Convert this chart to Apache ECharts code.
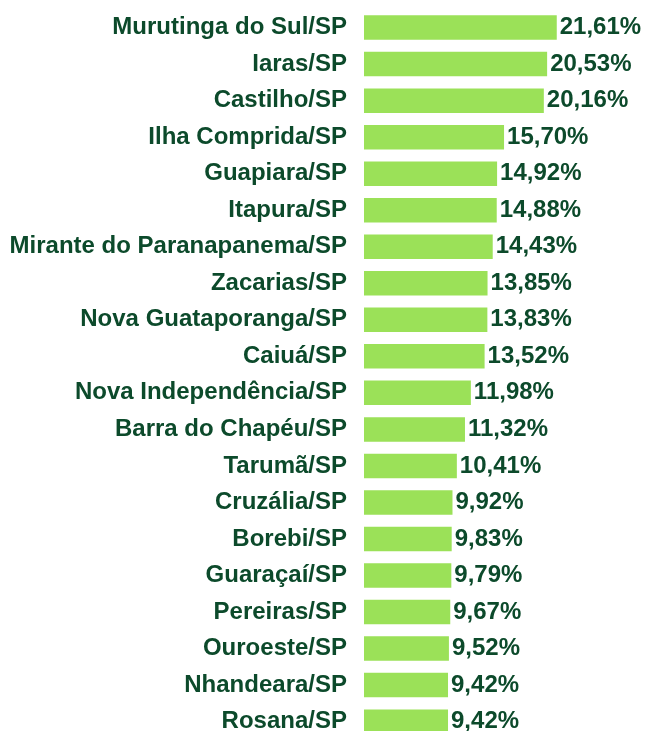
<!DOCTYPE html>
<html>
<head>
<meta charset="utf-8">
<script src="https://cdn.jsdelivr.net/npm/echarts@6/dist/echarts.min.js"></script>
<style>
  html, body { margin: 0; padding: 0; background: #fff; }
  #chart { width: 645px; height: 731px; }
</style>
</head>
<body>
<div id="chart"></div>
<script>
// Municipalities, top to bottom
const municipios = [
  'Murutinga do Sul/SP', 'Iaras/SP', 'Castilho/SP', 'Ilha Comprida/SP',
  'Guapiara/SP', 'Itapura/SP', 'Mirante do Paranapanema/SP', 'Zacarias/SP',
  'Nova Guataporanga/SP', 'Caiuá/SP', 'Nova Independência/SP',
  'Barra do Chapéu/SP', 'Tarumã/SP', 'Cruzália/SP', 'Borebi/SP',
  'Guaraçaí/SP', 'Pereiras/SP', 'Ouroeste/SP', 'Nhandeara/SP', 'Rosana/SP'
];
// Percentage for each municipality
const percentuais = [
  21.61, 20.53, 20.16, 15.70, 14.92, 14.88, 14.43, 13.85, 13.83, 13.52,
  11.98, 11.32, 10.41, 9.92, 9.83, 9.79, 9.67, 9.52, 9.42, 9.42
];

const verdeEscuro = '#0c4a2b';
const verdeBarra = '#9be158';

const chart = echarts.init(document.getElementById('chart'), null, { renderer: 'canvas' });
chart.setOption({
  animation: false,
  grid: {
    left: 364, top: 9.3, width: 223, height: 730.6,
    outerBoundsMode: 'none'
  },
  xAxis: {
    type: 'value', min: 0, max: 25,
    show: false
  },
  yAxis: {
    type: 'category',
    inverse: true,
    data: municipios,
    axisLine: { show: false },
    axisTick: { show: false },
    axisLabel: {
      margin: 17,
      color: verdeEscuro,
      fontFamily: 'Liberation Sans, Arial, sans-serif',
      fontWeight: 'bold',
      fontSize: 24
    }
  },
  series: [{
    type: 'bar',
    data: percentuais,
    barWidth: 24.5,
    itemStyle: { color: verdeBarra },
    label: {
      show: true,
      position: 'right',
      distance: 3,
      color: verdeEscuro,
      fontFamily: 'Liberation Sans, Arial, sans-serif',
      fontWeight: 'bold',
      fontSize: 24,
      formatter: p => p.value.toFixed(2).replace('.', ',') + '%'
    }
  }]
});
</script>
</body>
</html>
